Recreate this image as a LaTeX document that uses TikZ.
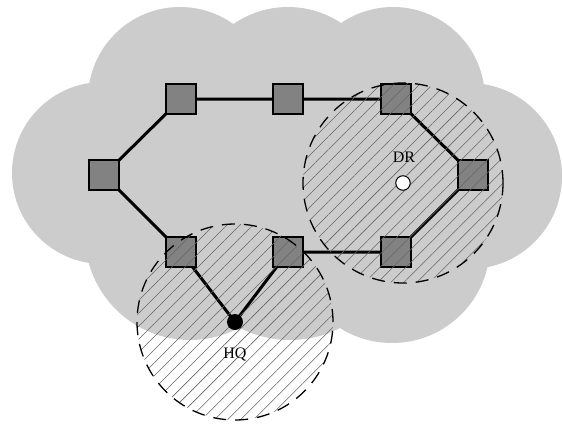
\documentclass[tikz,border=0pt]{standalone}
\usepackage{fontspec}
\setmainfont{Liberation Serif}
\usetikzlibrary{patterns.meta}
\pgfdeclarelayer{background}
\pgfsetlayers{background,main}
\definecolor{cloudgray}{RGB}{204,204,204}
\definecolor{sitegray}{RGB}{130,130,130}
\tikzset{
  site/.style={draw=black, fill=sitegray, line width=1.2pt, minimum size=30pt, inner sep=0pt},
  link/.style={line width=3pt, line cap=round},
  zone/.style={pattern={Lines[angle=45,distance=9.2pt,line width=0.55pt]}, pattern color=black!60},
  zoneedge/.style={draw=black, line width=1.3pt, dash pattern=on 13pt off 9pt},
  label/.style={font=\fontsize{16}{18}\selectfont, inner sep=0pt}
}
\begin{document}
\begin{tikzpicture}[x=1pt,y=-1pt]
\useasboundingbox (0,0) rectangle (563,426);

% white page and the cloud made of overlapping discs
\begin{pgfonlayer}{background}
\fill[white] (0,0) rectangle (563,426);
\fill[cloudgray]
  (180,99) circle[radius=92pt]
  (288,103) circle[radius=96pt]
  (393,99) circle[radius=92pt]
  (469,176) circle[radius=93pt]
  (392,245) circle[radius=98pt]
  (290,230) circle[radius=110pt]
  (190,235) circle[radius=105pt]
  (103,173) circle[radius=91pt]
  (150,100) rectangle (430,260);
\end{pgfonlayer}

% sites of the ring
\node[site] (tl) at (181,99) {};
\node[site] (tm) at (288,99) {};
\node[site] (tr) at (396,99) {};
\node[site] (l)  at (104,175) {};
\node[site] (r)  at (473,175) {};
\node[site] (bl) at (181,252) {};
\node[site] (bm) at (288,252) {};
\node[site] (br) at (396,252) {};
\coordinate (hq) at (235,322);
\coordinate (dr) at (403,183);

% ring links
\begin{pgfonlayer}{background}
\draw[link] (l.center) -- (tl.center) -- (tm.center) -- (tr.center) -- (r.center)
  -- (br.center) -- (bm.center) -- (hq) -- (bl.center) -- (l.center);
\end{pgfonlayer}

% coverage zones around HQ and DR
\fill[zone] (hq) circle[radius=98pt];
\fill[zone] (dr) circle[radius=100pt];

\node[circle, fill=black, minimum size=16pt, inner sep=0pt] (hqdot) at (hq) {};
\node[circle, draw=black, fill=white, line width=1pt, minimum size=14.5pt, inner sep=0pt] (drdot) at (dr) {};

\draw[zoneedge] (hq) circle[radius=98pt];
\draw[zoneedge] (dr) circle[radius=100pt];

\node[label] (hqlabel) at (235,354) {HQ};
\node[label] (drlabel) at (404,157) {DR};
\end{tikzpicture}
\end{document}
